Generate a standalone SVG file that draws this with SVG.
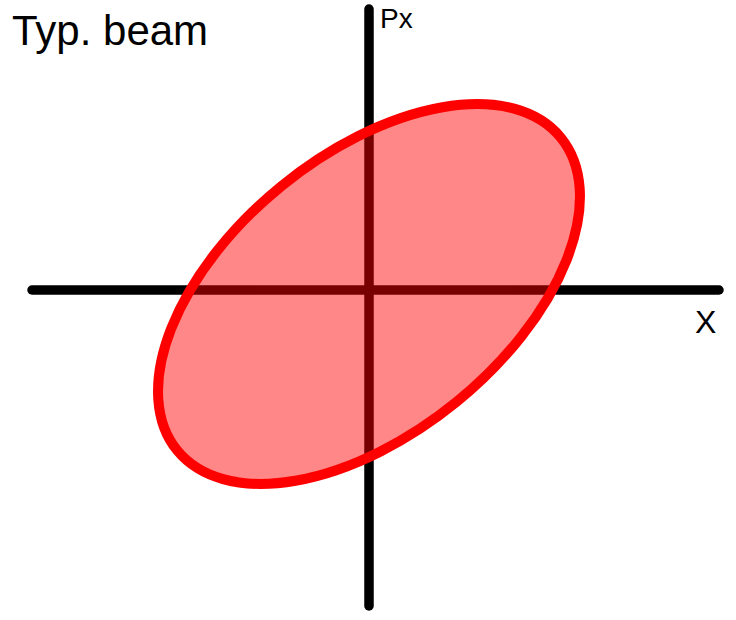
<svg xmlns="http://www.w3.org/2000/svg" width="736" height="620" viewBox="0 0 736 620">
<style>
.axis{stroke:#000;stroke-width:9.5;stroke-linecap:round;fill:none}
.lbl{font-family:"Liberation Sans",Arial,sans-serif;fill:#000}
</style>
<rect width="736" height="620" fill="#fff"/>
<g id="axes">
<line class="axis" x1="32" y1="290" x2="719" y2="290"/>
<line class="axis" x1="369" y1="9" x2="369" y2="606"/>
</g>
<g id="beam">
<ellipse cx="369" cy="294" rx="247.5" ry="139" transform="rotate(-39.2 369 294)" fill="#ff0000" fill-opacity="0.47" stroke="#ff0000" stroke-width="10"/>
</g>
<g id="labels">
<text class="lbl" x="12" y="45" font-size="42">Typ. beam</text>
<text class="lbl" x="380" y="28" font-size="28">Px</text>
<text class="lbl" x="695" y="333" font-size="32">X</text>
</g>
</svg>
